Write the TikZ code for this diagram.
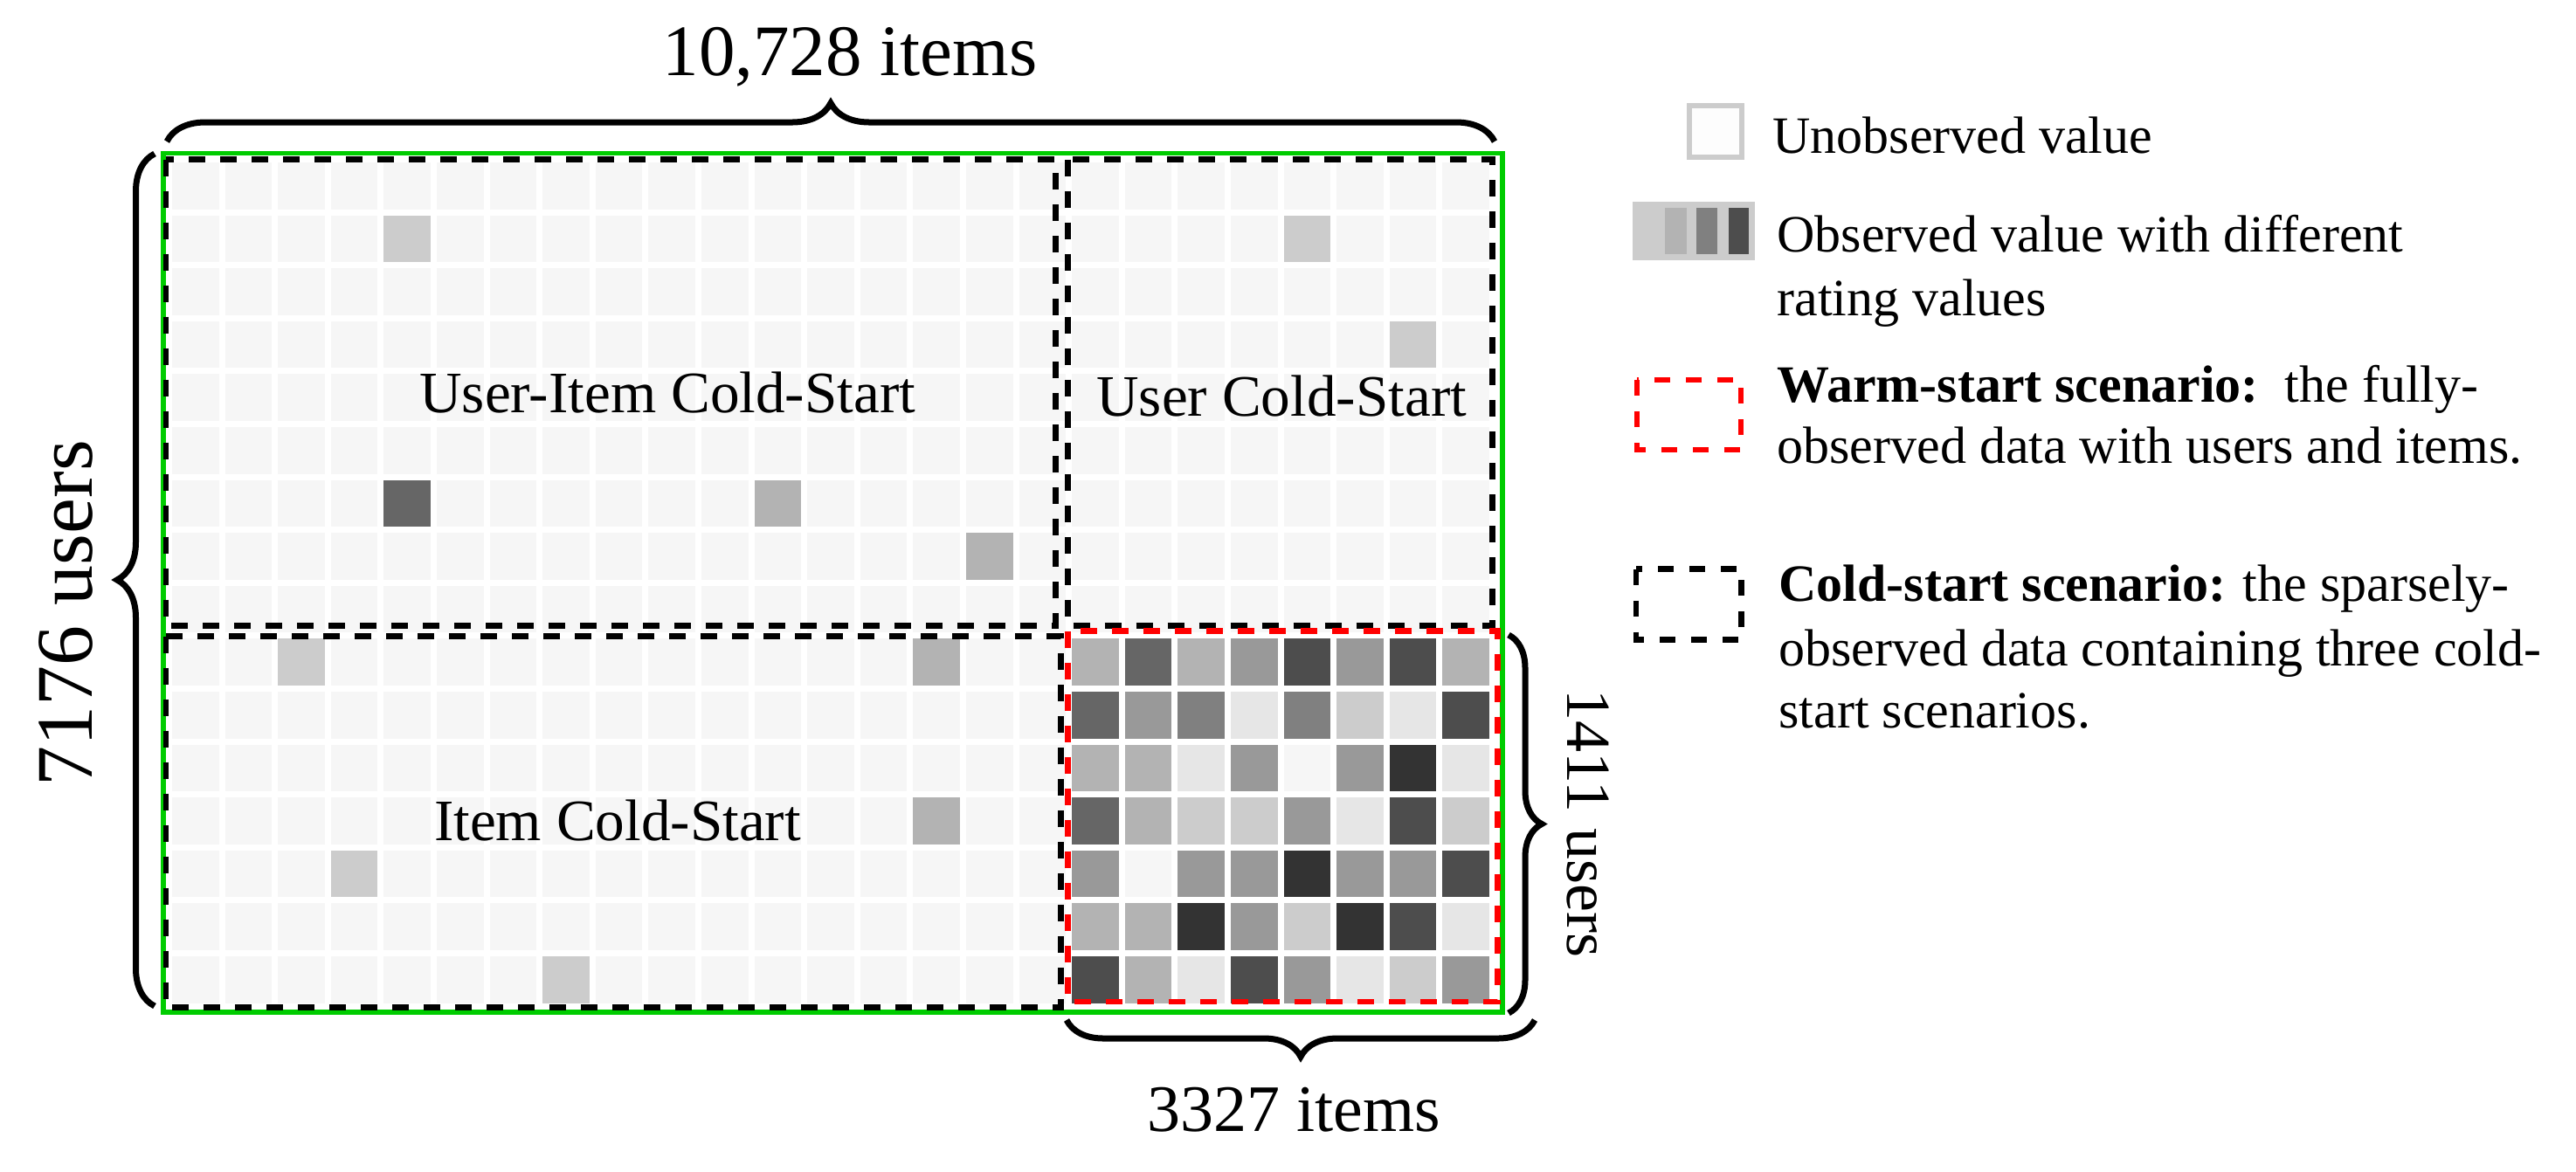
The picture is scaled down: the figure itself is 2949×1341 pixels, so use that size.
\documentclass[tikz,border=0pt]{standalone}
\usepackage{fontspec}
\setmainfont{Liberation Serif}
\usetikzlibrary{decorations.pathreplacing}
\definecolor{grn}{HTML}{00CC00}
\definecolor{wred}{HTML}{FF0000}
\definecolor{c33}{HTML}{333333}
\definecolor{c4D}{HTML}{4D4D4D}
\definecolor{c66}{HTML}{666666}
\definecolor{c80}{HTML}{808080}
\definecolor{c99}{HTML}{999999}
\definecolor{cB3}{HTML}{B3B3B3}
\definecolor{cCC}{HTML}{CCCCCC}
\definecolor{cE6}{HTML}{E6E6E6}
\definecolor{cF6}{HTML}{F6F6F6}
\definecolor{cFD}{HTML}{FDFDFD}
\tikzset{
  blkdash/.style={draw=black, line width=3.25pt, dash pattern=on 9.5pt off 8.5pt},
  reddash/.style={draw=wred, line width=3.25pt, dash pattern=on 9.5pt off 8.5pt},
  bracestyle/.style={draw=black, line width=3.5pt, decorate},
  lbl/.style={inner sep=0pt, font=\fontsize{33.6}{40}\selectfont},
  leg/.style={inner sep=0pt, anchor=base west, font=\fontsize{30}{36}\selectfont},
}
\begin{document}
\begin{tikzpicture}[x=0.5pt,y=-0.5pt]
\useasboundingbox (0,0) rectangle (2949,1341);
\fill[white] (0,0) rectangle (2949,1341);
% background cells
\foreach \r in {0,...,15}{
  \foreach \c in {0,...,24}{
    \fill[cF6] ({197+60.6*\c},{186+60.6*\r}) rectangle ++(53.5,53.5);
  }
}
% sparse observed cells
\foreach \r/\c/\v in {1/4/CC, 6/4/66, 6/11/B3, 7/15/B3, 1/21/CC, 3/23/CC,
                      9/2/CC, 9/14/B3, 12/14/B3, 13/3/CC, 15/7/CC}{
  \fill[c\v] ({197+60.6*\c},{186+60.6*\r}) rectangle ++(53.5,53.5);
}
% warm-start block
\foreach \r/\vals in {9/{B3,66,B3,99,4D,99,4D,B3},
                      10/{66,99,80,E6,80,CC,E6,4D},
                      11/{B3,B3,E6,99,F6,99,33,E6},
                      12/{66,B3,CC,CC,99,E6,4D,CC},
                      13/{99,F6,99,99,33,99,99,4D},
                      14/{B3,B3,33,99,CC,33,4D,E6},
                      15/{4D,B3,E6,4D,99,E6,CC,99}}{
  \foreach \v [count=\j from 17] in \vals {
    \fill[c\v] ({197+60.6*\j},{186+60.6*\r}) rectangle ++(53.5,53.5);
  }
}
% green full-data frame
\draw[grn, line width=2.75pt] (187,175.5) rectangle (1720,1159);
% cold-start regions
\draw[blkdash] (190,182.5) rectangle (1208.5,716.5);
\draw[blkdash] (1222.5,182.5) rectangle (1708.5,716.5);
\draw[blkdash] (190,728.5) rectangle (1214.5,1153.5);
% warm-start region
\draw[reddash] (1222.5,722.5) rectangle (1714.5,1147);
% region labels
\node[lbl, anchor=base west] (ui) at (480,472) {User-Item Cold-Start};
\node[lbl, anchor=base west] (uc) at (1255,476) {User Cold-Start};
\node[lbl, anchor=base] (ic) at (707,962) {Item Cold-Start};
% braces
\draw[bracestyle, decoration={brace, amplitude=22pt}] (191,162) -- (1711,162);
\draw[bracestyle, decoration={brace, amplitude=21.5pt}] (177,1152) -- (177,176);
\draw[bracestyle, decoration={brace, amplitude=19pt}] (1727,727) -- (1727,1160);
\draw[bracestyle, decoration={brace, amplitude=21pt}] (1757,1168) -- (1221,1168);
% dimension labels
\node[inner sep=0pt, anchor=base, font=\fontsize{41.5}{48}\selectfont] (titems) at (973,86) {10,728 items};
\node[inner sep=0pt, anchor=base, font=\fontsize{38}{44}\selectfont] (bitems) at (1481,1295) {3327 items};
\node[inner sep=0pt, font=\fontsize{46}{52}\selectfont, rotate=90] (lusers) at (75,702) {7176 users};
\node[inner sep=0pt, font=\fontsize{36}{42}\selectfont, rotate=-90] (rusers) at (1818,943) {1411 users};
% legend
\draw[cCC, line width=3pt, fill=cFD] (1934,121) rectangle (1994,180);
\node[leg] (l1) at (2029,175) {Unobserved value};
\fill[cCC] (1869,231) rectangle (2009,298);
\fill[cB3] (1906,238) rectangle (1931,291);
\fill[c80] (1942,238) rectangle (1966,291);
\fill[c4D] (1979,238) rectangle (2002,291);
\node[leg] (l2a) at (2034,288) {Observed value with different};
\node[leg] (l2b) at (2034,361) {rating values};
\draw[wred, line width=2.75pt, dash pattern=on 9pt off 9pt] (1874,435) rectangle (1993,515);
\node[leg] (l3a) at (2034,460) {\textbf{Warm-start scenario:}\ \ the fully-};
\node[leg] (l3b) at (2034,530) {observed data with users and items.};
\draw[black, line width=3.3pt, dash pattern=on 9pt off 9pt] (1873,651.5) rectangle (1993.5,732.5);
\node[leg] (l4a) at (2036,688) {\textbf{Cold-start scenario:} the sparsely-};
\node[leg] (l4b) at (2036,762) {observed data containing three cold-};
\node[leg] (l4c) at (2036,833) {start scenarios.};
\end{tikzpicture}
\end{document}
